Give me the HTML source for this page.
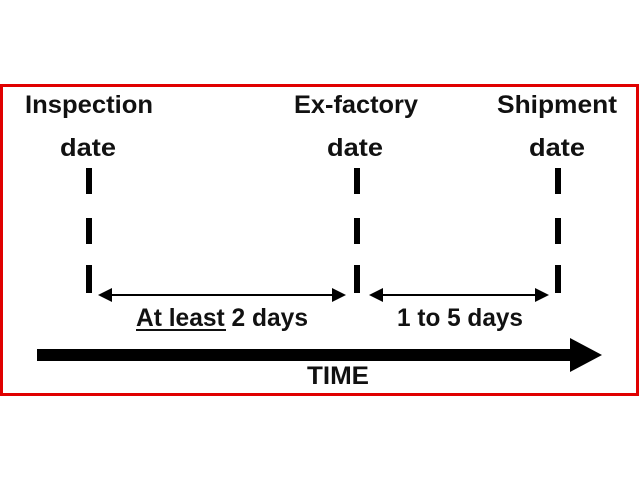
<!DOCTYPE html>
<html><head><style>body{margin:0;background:#fff;}svg{display:block;}</style></head><body>
<svg width="640" height="480" viewBox="0 0 640 480" xmlns="http://www.w3.org/2000/svg" font-family="Liberation Sans, sans-serif" font-weight="bold" fill="#111">
<rect x="1.5" y="85.5" width="636" height="309" fill="none" stroke="#e00000" stroke-width="3"/>
<g font-size="25" text-anchor="middle">
<text x="89" y="113" textLength="128" lengthAdjust="spacingAndGlyphs">Inspection</text>
<text x="88" y="156" textLength="56" lengthAdjust="spacingAndGlyphs">date</text>
<text x="356" y="113" textLength="124" lengthAdjust="spacingAndGlyphs">Ex-factory</text>
<text x="355" y="156" textLength="56" lengthAdjust="spacingAndGlyphs">date</text>
<text x="557" y="113" textLength="120" lengthAdjust="spacingAndGlyphs">Shipment</text>
<text x="557" y="156" textLength="56" lengthAdjust="spacingAndGlyphs">date</text>
<text x="222" y="326" textLength="172" lengthAdjust="spacingAndGlyphs">At least 2 days</text>
<text x="460" y="326" textLength="126" lengthAdjust="spacingAndGlyphs">1 to 5 days</text>
<text x="338" y="384" textLength="62" lengthAdjust="spacingAndGlyphs">TIME</text>
</g>
<rect x="136" y="329" width="90" height="2"/>
<g fill="#000">
<rect x="86" y="168" width="6" height="26"/><rect x="86" y="218" width="6" height="26"/><rect x="86" y="265" width="6" height="28"/>
<rect x="354" y="168" width="6" height="26"/><rect x="354" y="218" width="6" height="26"/><rect x="354" y="265" width="6" height="28"/>
<rect x="555" y="168" width="6" height="26"/><rect x="555" y="218" width="6" height="26"/><rect x="555" y="265" width="6" height="28"/>
<rect x="105" y="294" width="232" height="2"/>
<polygon points="98,295 112,288 112,302"/><polygon points="346,295 332,288 332,302"/>
<rect x="378" y="294" width="162" height="2"/>
<polygon points="369,295 383,288 383,302"/><polygon points="549,295 535,288 535,302"/>
<rect x="37" y="349" width="535" height="12"/>
<polygon points="570,338 602,355 570,372"/>
</g>
</svg>
</body></html>
